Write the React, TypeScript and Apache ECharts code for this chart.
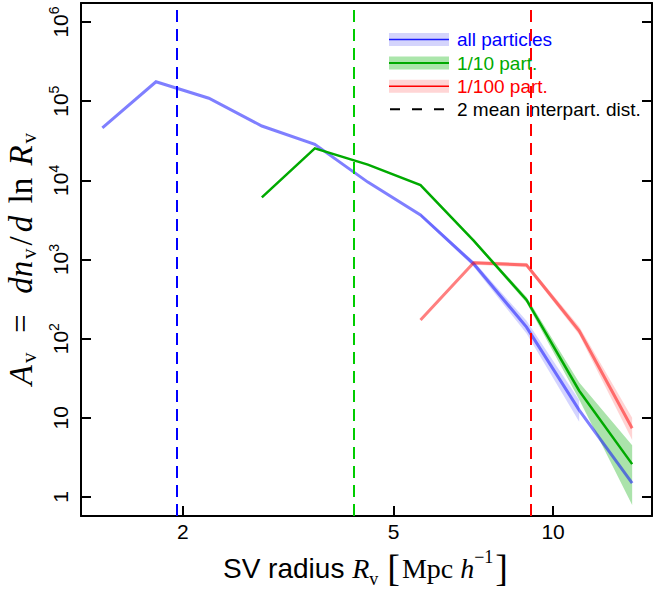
import React, { useEffect, useRef } from 'react';
import * as echarts from 'echarts';

// ---- data ----
const radiiAll = [1.41, 1.78, 2.24, 2.82, 3.55, 4.47, 5.62, 7.08, 8.91, 11.2, 14.1];
const allParticles = [4.6e4, 1.76e5, 1.09e5, 4.86e4, 2.85e4, 9.5e3, 3.65e3, 880, 140, 12.5, 1.5];
const allBandR = [5.62, 7.08, 8.91, 11.2];
const allBandLow = [3500, 810, 116, 8.9];
const allBandHigh = [3800, 950, 168, 16.8];

const radiiTenth = [2.82, 3.55, 4.47, 5.62, 7.08, 8.91, 11.2, 14.1];
const tenthParticles = [6.1e3, 2.54e4, 1.58e4, 8.7e3, 1.73e3, 308, 22, 2.6];
const tenthBandR = [7.08, 8.91, 11.2, 14.1];
const tenthBandLow = [1650, 285, 17, 0.79];
const tenthBandHigh = [1810, 335, 28, 4.5];

const radiiHundredth = [5.62, 7.08, 8.91, 11.2, 14.1];
const hundredthParticles = [172, 911, 851, 126, 7.4];
const hundredthBandR = [7.08, 8.91, 11.2, 14.1];
const hundredthBandLow = [860, 800, 112, 5.25];
const hundredthBandHigh = [960, 905, 142, 10];

const meanInterpartDist = [1.954, 4.21, 9.07];

const xTicks = [2, 5, 10];
const yTicks = [1, 10, 100, 1e3, 1e4, 1e5, 1e6];

const legendLabels = ['all particles', '1/10 part.', '1/100 part.', '2 mean interpart. dist.'];

export default function App() {
  const ref = useRef<HTMLDivElement>(null);
  useEffect(() => {
    const el = ref.current as HTMLDivElement;
    const chart = echarts.init(el, null, { renderer: 'svg' });
    const sans = "'Liberation Sans', Arial, Helvetica, sans-serif";
    const serif = "'Liberation Serif', 'DejaVu Serif', serif";
    const xMin = 1.285, xMax = 15.37, yMin = 0.575, yMax = 1.74e6;

    const band = (id: string, rs: number[], lo: number[], hi: number[], color: string, z: number) => ({
      type: 'custom',
      id,
      silent: true,
      z,
      data: rs.map((r, i) => [r, lo[i], hi[i]]),
      encode: { x: 0, y: [1, 2] },
      renderItem: (params: any, api: any) => {
        if (params.dataIndex !== 0) return null;
        const upper = rs.map((r, i) => api.coord([r, hi[i]]));
        const lower = rs.map((r, i) => api.coord([r, lo[i]])).reverse();
        return { type: 'polygon', shape: { points: upper.concat(lower) }, style: { fill: color } };
      },
    });

    const dash = (x: number, color: string) => ({
      silent: true,
      symbol: ['none', 'none'],
      label: { show: false },
      lineStyle: { color, width: 2, type: [12, 7] },
      data: [{ xAxis: x }],
    });

    const line = (name: string, rs: number[], vals: number[], color: string, width: number, z: number, ml: any) => ({
      type: 'line',
      name,
      data: rs.map((r, i) => [r, vals[i]]),
      symbol: 'none',
      showSymbol: false,
      silent: true,
      z,
      lineStyle: { color, width, join: 'miter' },
      markLine: ml,
    });

    const yFmt = (v: number) => {
      const e = Math.round(Math.log10(v));
      if (e === 0) return '{b|1}';
      if (e === 1) return '{b|10}';
      return `{b|10}{s|${e}}`;
    };

    const legendY = [39.5, 63, 86.3, 109.3];
    const legendFill = ['#d4d4fc', '#abe6ab', '#ffd5d5'];
    const legendLine = ['#1a1aff', '#00aa00', '#ff0000'];
    const legendText = ['#0000ff', '#00aa00', '#ff0000', '#000000'];
    const graphics: any[] = [];
    for (let i = 0; i < 3; i++) {
      graphics.push({ type: 'rect', silent: true, shape: { x: 389, y: legendY[i] - 6.5, width: 60, height: 13 }, style: { fill: legendFill[i] } });
      graphics.push({ type: 'line', silent: true, shape: { x1: 389, y1: legendY[i], x2: 449, y2: legendY[i] }, style: { stroke: legendLine[i], lineWidth: i === 1 ? 2 : 1.5 } });
    }
    graphics.push({ type: 'line', silent: true, shape: { x1: 390, y1: legendY[3], x2: 444, y2: legendY[3] }, style: { stroke: '#000', lineWidth: 2, lineDash: [10, 12] } });
    for (let i = 0; i < 4; i++) {
      graphics.push({ type: 'text', silent: true, x: 457, y: legendY[i], style: { text: legendLabels[i], fill: legendText[i], font: `19px ${sans}`, verticalAlign: 'middle', align: 'left' } });
    }

    const option: any = {
      animation: false,
      backgroundColor: '#ffffff',
      grid: { left: 81, right: 1, top: 3, bottom: 73, show: false, containLabel: false, outerBoundsMode: 'none' },
      xAxis: [
        {
          type: 'log', min: xMin, max: xMax, position: 'bottom',
          axisLine: { show: true, lineStyle: { color: '#000', width: 2 } },
          axisTick: { show: true, inside: true, length: 10, customValues: xTicks, lineStyle: { color: '#000', width: 2 } },
          axisLabel: { customValues: xTicks, fontSize: 21, color: '#000', fontFamily: sans, margin: 5, formatter: (v: number) => String(Math.round(v * 100) / 100) },
          splitLine: { show: false }, minorTick: { show: false },
          name: '{t|SV radius }{mi|R}{sub|v}{sp| }{br|[}{rm|Mpc }{mi|h}{sup|−1}{br|]}',
          nameLocation: 'middle', nameGap: 32,
          nameTextStyle: {
            color: '#000',
            rich: {
              t: { fontFamily: sans, fontSize: 28, color: '#000', lineHeight: 40 },
              mi: { fontFamily: serif, fontStyle: 'italic', fontSize: 28, color: '#000', lineHeight: 40 },
              rm: { fontFamily: serif, fontSize: 28, color: '#000', lineHeight: 40 },
              sp: { fontFamily: serif, fontSize: 28, color: '#000', lineHeight: 40 },
              sub: { fontFamily: serif, fontSize: 18, color: '#000', lineHeight: 17, verticalAlign: 'bottom' },
              sup: { fontFamily: serif, fontSize: 18, color: '#000', lineHeight: 16, verticalAlign: 'top' },
              br: { fontFamily: serif, fontSize: 38, color: '#000', lineHeight: 40, padding: [0, 2, 0, 2] },
            },
          },
        },
        {
          type: 'log', min: xMin, max: xMax, position: 'top',
          axisLine: { show: true, lineStyle: { color: '#000', width: 2 } },
          axisTick: { show: false }, axisLabel: { show: false }, splitLine: { show: false },
        },
      ],
      yAxis: [
        {
          type: 'log', min: yMin, max: yMax, position: 'left',
          axisLine: { show: true, lineStyle: { color: '#000', width: 2 } },
          axisTick: { show: true, inside: true, length: 10, customValues: yTicks, lineStyle: { color: '#000', width: 2 } },
          axisLabel: {
            customValues: yTicks, rotate: 90, margin: 8, color: '#000', fontFamily: sans, fontSize: 21,
            formatter: yFmt,
            rich: {
              b: { fontFamily: sans, fontSize: 21, color: '#000', lineHeight: 26 },
              s: { fontFamily: sans, fontSize: 14, color: '#000', lineHeight: 14, verticalAlign: 'top' },
            },
          },
          splitLine: { show: false }, minorTick: { show: false },
          name: '{mi|A}{sub|v}{rm|  =  }{mi|dn}{sub|v}{rm|/}{mi|d}{rm| ln }{mi|R}{sub|v}',
          nameLocation: 'middle', nameRotate: 90, nameGap: 27,
          nameTextStyle: {
            color: '#000',
            rich: {
              mi: { fontFamily: serif, fontStyle: 'italic', fontSize: 33, color: '#000', lineHeight: 36, padding: [0, 2, 0, 2] },
              rm: { fontFamily: serif, fontSize: 33, color: '#000', lineHeight: 36, padding: [0, 2, 0, 2] },
              sub: { fontFamily: serif, fontSize: 21, color: '#000', lineHeight: 16, verticalAlign: 'bottom', padding: [0, 1, 0, 0] },
            },
          },
        },
        {
          type: 'log', min: yMin, max: yMax, position: 'right',
          axisLine: { show: true, lineStyle: { color: '#000', width: 2 } },
          axisTick: { show: true, inside: true, length: 10, customValues: yTicks, lineStyle: { color: '#000', width: 2 } },
          axisLabel: { show: false }, splitLine: { show: false },
        },
      ],
      graphic: graphics,
      series: [
        band('allBand', allBandR, allBandLow, allBandHigh, 'rgba(0,0,255,0.17)', 1),
        band('tenthBand', tenthBandR, tenthBandLow, tenthBandHigh, 'rgba(0,170,0,0.33)', 1),
        band('hundredthBand', hundredthBandR, hundredthBandLow, hundredthBandHigh, 'rgba(255,0,0,0.17)', 1),
        line(legendLabels[0], radiiAll, allParticles, 'rgba(0,0,255,0.5)', 3, 3, dash(meanInterpartDist[0], '#0000ff')),
        line(legendLabels[1], radiiTenth, tenthParticles, '#00aa00', 2.5, 4, dash(meanInterpartDist[1], '#00cc00')),
        line(legendLabels[2], radiiHundredth, hundredthParticles, 'rgba(255,0,0,0.5)', 3, 3, dash(meanInterpartDist[2], '#ff0000')),
      ],
    };
    chart.setOption(option);
    return () => chart.dispose();
  }, []);
  return <div ref={ref} style={{ position: 'absolute', left: 0, top: 0, width: 653, height: 589 }} />;
}
